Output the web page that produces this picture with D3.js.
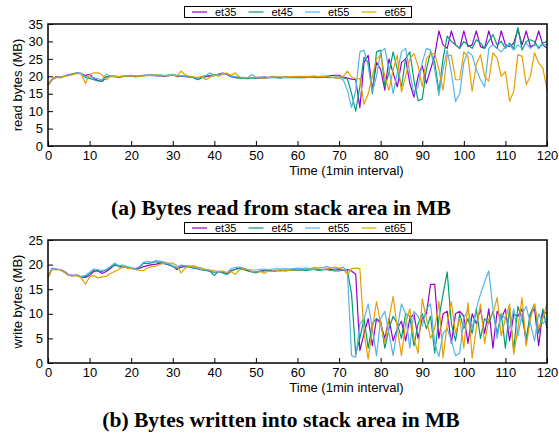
<!DOCTYPE html>
<html lang="en">
<head>
    <meta charset="UTF-8">
    <title>Stack area bytes</title>
    <script src="https://d3js.org/d3.v7.min.js"></script>
    <style>
        body {background:#fff; margin:0}
        svg {display:block}
        .tick text {font-family:"Liberation Sans", Arial, sans-serif; font-size:13px; fill:#000}
        .axisLabel {font-family:"Liberation Sans", Arial, sans-serif; font-size:13px; fill:#000}
        .legend text {font-family:"Liberation Sans", Arial, sans-serif; font-size:11px; fill:#000}
        .caption {font-family:"Liberation Serif", "Times New Roman", serif; font-weight:bold; font-size:21.5px; fill:#000}
    </style>
</head>
<body>
<svg id="chart" width="559" height="435"></svg>

<script>
// series names + gnuplot default colours
var seriesNames = ["et35", "et45", "et55", "et65"];
var seriesColors = ["#9400d3", "#009e73", "#56b4e9", "#e69f00"];

// minute index 0..120
var minutes = d3.range(0, 121);

var xTicks = [0, 10, 20, 30, 40, 50, 60, 70, 80, 90, 100, 110, 120];
var readTicks = [0, 5, 10, 15, 20, 25, 30, 35];
var writeTicks = [0, 5, 10, 15, 20, 25];

// (a) read bytes, MB per minute
var readEt35 = [17.6,19.2,19.9,19.7,20.1,20.5,20.7,21.0,20.7,20.2,
    20.6,19.4,18.8,18.5,19.8,20.1,19.9,19.8,19.9,20.2,
    20.1,20.0,20.1,20.3,20.2,20.4,20.1,20.2,20.0,20.2,
    20.6,19.9,20.1,20.0,19.8,19.6,19.2,19.7,19.9,20.1,
    20.2,20.6,20.9,20.5,19.9,19.7,19.6,19.5,19.4,19.5,
    19.6,19.5,19.7,19.6,19.8,19.7,19.6,19.8,19.7,19.9,
    19.7,19.8,19.7,19.9,19.8,19.7,19.9,19.9,20.2,20.3,
    20.3,19.8,19.5,19.2,19.0,11.0,24.0,26.0,16.0,24.0,
    22.0,16.0,25.0,21.0,17.0,24.0,25.0,18.0,14.0,20.0,
    23.0,18.0,22.0,26.0,33.0,29.0,28.0,33.0,29.0,28.0,
    33.0,28.5,29.0,33.0,28.5,28.0,33.0,29.0,28.0,33.0,
    29.0,28.5,29.5,33.5,29.0,33.0,28.5,29.0,33.0,29.0,
    28.0];
var readEt45 = [17.4,19.0,19.7,19.6,20.0,20.3,20.6,20.9,20.8,19.6,
    19.4,19.0,18.7,18.6,19.9,19.9,20.0,19.7,20.0,20.0,
    20.2,19.8,20.0,20.1,20.3,20.2,20.3,20.2,20.1,20.3,
    20.4,20.1,20.2,19.9,19.8,19.6,19.0,19.6,20.0,20.3,
    20.5,20.4,20.7,20.8,20.0,19.6,19.5,19.4,19.3,19.4,
    19.5,19.6,19.5,19.6,19.7,19.6,19.5,19.7,19.6,19.7,
    19.6,19.7,19.6,19.8,19.7,19.6,19.8,19.7,19.6,19.8,
    19.8,19.5,19.3,15.0,10.0,17.0,25.5,24.0,15.0,27.0,
    27.5,17.0,21.0,27.0,22.0,17.0,25.0,27.0,19.0,13.0,
    13.5,22.0,27.0,24.0,15.5,25.0,31.5,30.0,29.0,28.0,
    30.0,29.0,28.0,30.5,29.5,28.0,30.0,32.0,29.0,30.0,
    28.0,29.5,28.0,34.0,27.5,30.0,30.5,30.0,28.0,29.5,
    30.0];
var readEt55 = [17.5,19.1,19.8,19.5,20.1,20.4,20.5,21.0,20.9,19.9,
    19.8,19.6,19.3,19.0,20.6,20.1,20.0,19.9,20.1,20.2,
    20.3,20.1,19.9,20.3,20.5,20.4,20.3,20.4,20.2,20.4,
    20.5,20.3,20.1,20.1,20.0,19.8,19.3,19.9,20.3,21.0,
    20.3,20.6,20.8,20.7,20.1,19.9,19.8,19.5,19.6,20.5,
    19.7,19.8,19.9,19.7,20.0,19.9,19.8,19.9,19.8,20.0,
    19.9,20.0,19.8,20.0,19.9,19.9,20.0,20.1,19.7,19.6,
    19.5,19.0,16.0,11.0,16.0,27.0,27.5,23.0,15.5,20.0,
    27.0,28.0,22.0,15.0,21.0,27.0,28.0,21.0,15.0,17.0,
    24.0,28.0,27.5,22.0,14.5,22.0,27.5,21.0,12.8,15.0,
    24.0,27.0,26.0,22.0,19.0,17.0,28.0,29.0,28.0,27.0,
    28.5,29.0,27.5,29.0,28.0,29.5,28.0,29.0,28.5,29.0,
    29.0];
var readEt65 = [17.3,19.0,19.6,19.8,20.0,20.2,20.5,20.8,20.7,18.0,
    20.5,21.0,21.0,20.5,19.0,20.0,20.1,19.9,20.0,20.2,
    20.1,20.2,20.0,20.1,20.3,20.2,20.4,20.3,20.2,20.1,
    20.4,20.0,21.5,20.4,20.0,19.8,19.6,20.0,19.0,19.8,
    20.4,20.0,20.6,20.9,20.3,21.0,19.8,19.7,19.6,19.5,
    19.7,19.8,19.3,19.8,19.7,19.9,19.8,19.7,19.9,19.8,
    20.0,19.9,20.0,19.9,20.1,19.9,20.0,20.0,19.8,19.5,
    19.5,20.0,21.5,19.8,19.3,19.3,12.0,15.0,20.0,25.0,
    26.0,20.0,16.0,22.0,26.0,15.5,20.0,25.0,26.5,23.0,
    17.0,25.0,26.5,26.5,22.0,16.0,26.0,26.0,19.0,19.0,
    27.0,25.5,15.7,23.5,26.2,20.0,18.6,26.7,25.3,20.0,
    21.4,12.8,15.7,26.2,25.7,17.6,20.0,26.7,23.8,22.4,
    16.0];

// (b) write bytes, MB per minute
var writeEt35 = [17.6,19.2,19.0,19.0,18.6,17.9,17.8,17.8,17.5,17.4,
    17.8,18.6,18.8,18.2,18.6,19.2,19.9,19.8,19.5,19.4,
    19.3,19.0,19.2,19.6,19.8,20.0,20.1,20.3,20.2,20.0,
    19.7,19.0,19.5,19.6,19.7,19.4,19.2,19.0,18.9,18.7,
    18.4,18.6,18.5,18.2,18.8,19.0,19.4,19.0,18.8,18.6,
    18.5,18.7,18.8,18.9,18.7,18.8,18.9,18.8,18.9,19.0,
    18.9,19.0,18.9,19.0,19.1,18.9,19.0,19.1,19.0,18.9,
    19.0,18.8,19.0,18.7,18.0,2.5,6.0,9.0,3.5,9.0,
    8.0,5.0,9.0,4.5,7.0,8.5,4.5,9.0,10.0,5.0,
    9.0,10.0,16.0,16.0,5.0,10.0,10.5,4.0,10.0,10.5,
    9.5,4.0,10.0,8.0,11.0,6.0,11.0,3.0,10.5,9.0,
    11.0,4.5,10.0,9.5,11.0,4.0,10.0,11.0,3.5,10.5,
    10.0];
var writeEt45 = [17.4,19.1,19.1,18.9,18.4,17.8,17.7,17.9,17.4,17.6,
    18.2,18.9,18.6,18.6,18.9,19.4,20.0,19.6,19.4,19.5,
    19.3,19.1,19.4,20.3,20.2,20.4,20.6,20.4,20.3,20.0,
    19.6,19.2,19.8,19.7,19.5,19.3,19.1,18.9,18.8,18.6,
    17.8,18.6,18.3,18.0,18.6,19.0,19.2,19.1,18.7,18.5,
    18.3,18.6,18.7,18.8,18.6,18.7,18.8,18.7,18.8,18.9,
    18.8,18.9,18.8,18.9,19.0,18.8,18.9,19.0,18.8,18.7,
    18.7,19.0,18.8,14.0,1.8,5.0,9.0,3.0,8.0,9.0,
    8.5,3.0,7.0,9.5,8.0,5.0,10.0,9.5,3.5,8.0,
    10.0,7.0,9.5,2.0,9.0,14.0,18.5,8.0,4.5,10.0,
    7.0,9.0,6.0,11.0,5.0,9.0,8.0,10.5,6.0,10.0,
    3.0,11.0,2.5,11.5,9.0,5.0,10.0,12.0,6.0,11.0,
    7.0];
var writeEt55 = [17.5,19.3,19.1,19.0,18.5,17.9,17.8,17.7,17.6,17.8,
    18.4,19.1,19.0,18.8,19.0,19.6,20.3,19.8,19.9,19.6,
    19.4,19.2,19.6,20.5,20.6,20.5,20.8,20.7,20.5,20.2,
    19.8,19.4,19.9,19.8,19.6,19.5,19.3,19.0,19.0,18.8,
    18.4,18.7,18.6,18.3,19.2,19.4,19.5,19.3,19.0,18.9,
    18.9,19.0,19.1,19.0,19.1,19.2,19.1,19.2,19.1,19.2,
    19.3,19.2,19.3,19.2,19.4,19.3,19.4,19.6,19.4,19.3,
    19.2,19.5,18.5,1.5,1.2,8.0,9.0,12.0,7.0,1.5,
    9.0,10.5,6.0,1.5,7.0,12.0,10.0,3.0,10.5,9.5,
    7.5,11.0,12.0,4.0,1.3,6.0,7.0,4.5,1.5,2.0,
    9.0,11.0,7.0,11.0,14.0,16.5,18.7,11.0,5.0,10.0,
    9.0,7.0,11.0,5.5,10.0,11.5,8.0,4.5,10.0,8.0,
    9.0];
var writeEt65 = [17.3,19.0,18.9,19.0,18.4,17.8,17.7,17.8,17.3,16.0,
    17.5,17.8,17.3,17.5,17.6,18.2,18.6,19.0,19.6,19.3,
    19.2,19.0,18.8,18.8,19.3,19.6,19.7,20.1,20.3,20.3,
    20.3,19.8,18.3,19.3,19.6,19.8,19.5,19.3,19.0,18.9,
    18.8,18.5,18.7,18.4,18.6,18.0,18.9,19.2,19.0,18.6,
    18.5,18.6,18.2,18.7,18.6,18.8,18.7,18.9,18.8,18.9,
    19.0,18.9,19.0,19.1,19.0,19.2,19.0,19.1,19.3,19.5,
    19.3,19.0,18.0,19.2,19.3,19.2,6.0,0.8,7.0,12.5,
    8.0,4.0,9.0,13.5,7.0,1.5,8.0,11.0,5.0,2.0,
    13.0,9.0,5.0,7.0,12.5,1.0,8.0,12.5,6.0,9.0,
    3.0,12.3,1.0,7.0,12.0,4.0,9.0,10.0,13.3,5.5,
    9.0,12.0,1.8,7.0,13.3,3.5,9.0,12.0,7.0,9.0,
    12.0];

var svg = d3.select("#chart");

drawPanel({
    top: 24, bottom: 146, legendY: 12, yMax: 35, yTicks: readTicks,
    series: [readEt35, readEt45, readEt55, readEt65],
    yLabel: "read bytes (MB)",
    caption: "(a) Bytes read from stack area in MB", captionY: 215
});
drawPanel({
    top: 240, bottom: 363, legendY: 228, yMax: 25, yTicks: writeTicks,
    series: [writeEt35, writeEt45, writeEt55, writeEt65],
    yLabel: "write bytes (MB)",
    caption: "(b) Bytes written into stack area in MB", captionY: 427
});

function drawPanel(cfg){
    var left = 48, right = 547;
    var x = d3.scaleLinear().domain([0, 120]).range([left, right]);
    var y = d3.scaleLinear().domain([0, cfg.yMax]).range([cfg.bottom, cfg.top]);
    var g = svg.append("g");

    // lines first, frame on top
    var line = d3.line()
        .x(function(d, i){ return x(minutes[i]); })
        .y(function(d){ return y(d); });
    cfg.series.forEach(function(vals, s){
        g.append("path")
            .attr("d", line(vals))
            .attr("fill", "none")
            .attr("stroke", seriesColors[s])
            .attr("stroke-width", 1.2)
            .attr("stroke-linejoin", "round");
    });

    // axes, ticks point inward like gnuplot
    var xAxis = d3.axisBottom(x).tickValues(xTicks).tickSizeInner(-5).tickSizeOuter(0).tickPadding(5);
    var yAxis = d3.axisLeft(y).tickValues(cfg.yTicks).tickSizeInner(-5).tickSizeOuter(0).tickPadding(5);
    var gx = g.append("g").attr("transform", "translate(0," + cfg.bottom + ")").call(xAxis);
    var gy = g.append("g").attr("transform", "translate(" + left + ",0)").call(yAxis);
    [gx, gy].forEach(function(ax){
        ax.select(".domain").remove();
        ax.selectAll(".tick line").attr("stroke", "#000").attr("stroke-width", 1);
        ax.attr("font-family", null).attr("font-size", null);
    });

    g.append("rect")
        .attr("x", left).attr("y", cfg.top)
        .attr("width", right - left).attr("height", cfg.bottom - cfg.top)
        .attr("fill", "none").attr("stroke", "#000").attr("stroke-width", 1.5);

    g.append("text").attr("class", "axisLabel")
        .attr("x", x(60) + 49).attr("y", cfg.bottom + 29)
        .attr("text-anchor", "middle")
        .text("Time (1min interval)");

    g.append("text").attr("class", "axisLabel")
        .attr("transform", "translate(22," + ((cfg.top + cfg.bottom) / 2) + ") rotate(-90)")
        .attr("text-anchor", "middle")
        .text(cfg.yLabel);

    // legend box
    var lg = g.append("g").attr("class", "legend");
    lg.append("rect")
        .attr("x", 184.5).attr("y", cfg.legendY - 5.5)
        .attr("width", 227).attr("height", 11)
        .attr("fill", "#fff").attr("stroke", "#000").attr("stroke-width", 1);
    seriesNames.forEach(function(name, s){
        var lx = 192 + s * 56.5;
        lg.append("line")
            .attr("x1", lx).attr("x2", lx + 15)
            .attr("y1", cfg.legendY).attr("y2", cfg.legendY)
            .attr("stroke", seriesColors[s]).attr("stroke-width", 1.2);
        lg.append("text")
            .attr("x", lx + 23).attr("y", cfg.legendY + 4)
            .text(name);
    });

    g.append("text").attr("class", "caption")
        .attr("x", 281).attr("y", cfg.captionY)
        .attr("text-anchor", "middle")
        .text(cfg.caption);
}
</script>
</body>
</html>
